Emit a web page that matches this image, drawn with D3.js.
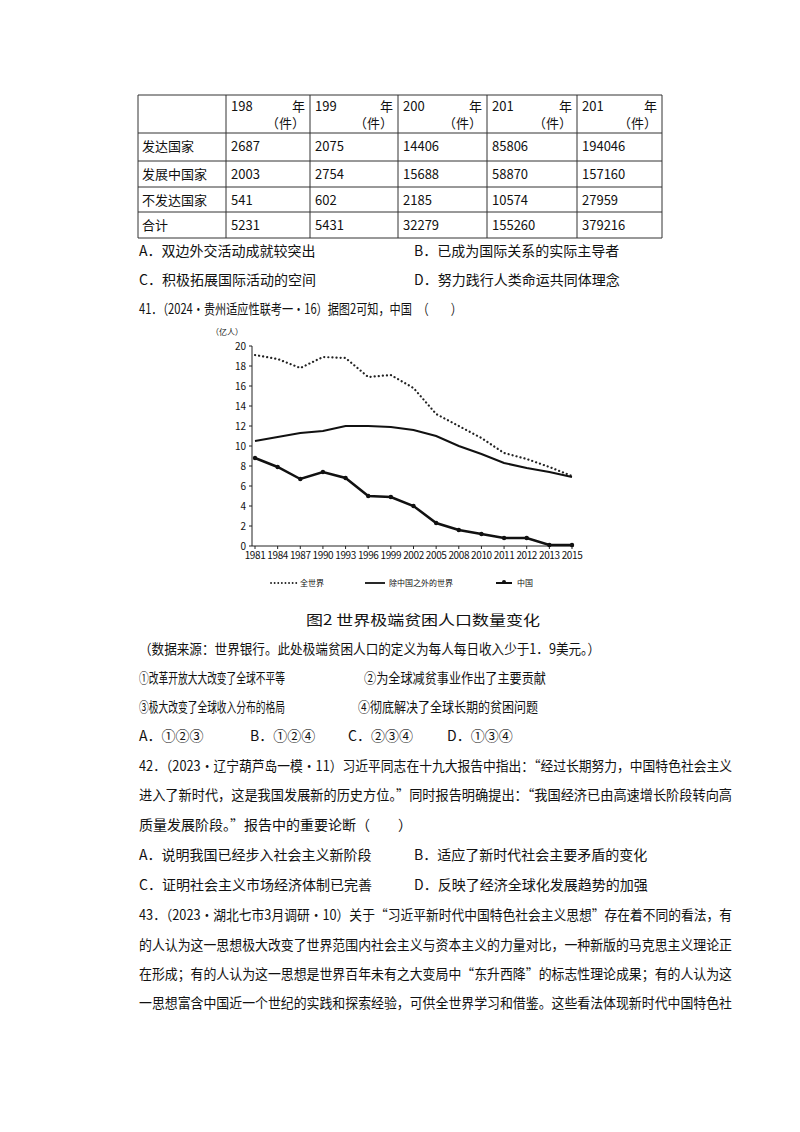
<!DOCTYPE html>
<html>
<head>
<meta charset="utf-8">
<script src="https://d3js.org/d3.v7.min.js"></script>
<style>
  body { margin: 0; background: #fff; }
  svg text { font-family: "Noto Sans CJK SC", "Liberation Serif", serif; fill: #111; }
</style>
</head>
<body>
<script>
// table data
var tableHead = ["198　　年（件）", "199　　年（件）", "200　　年（件）", "201　　年（件）", "201　　年（件）"];
var tableRows = ["发达国家", "发展中国家", "不发达国家", "合计"];
var tableVals = [
  ["2687", "2075", "14406", "85806", "194046"],
  ["2003", "2754", "15688", "58870", "157160"],
  ["541", "602", "2185", "10574", "27959"],
  ["5231", "5431", "32279", "155260", "379216"]
];

// chart data
var years = ["1981","1984","1987","1990","1993","1996","1999","2002","2005","2008","2010","2011","2012","2013","2015"];
var world =   [19.1, 18.7, 17.8, 18.9, 18.8, 16.9, 17.1, 15.8, 13.2, 12.0, 10.8, 9.3, 8.7, 7.9, 7.0];
var exChina = [10.5, 10.9, 11.3, 11.5, 12.0, 12.0, 11.9, 11.6, 11.0, 10.0, 9.2, 8.3, 7.8, 7.4, 6.9];
var china =   [8.8, 7.9, 6.7, 7.4, 6.8, 5.0, 4.9, 4.0, 2.3, 1.6, 1.2, 0.8, 0.8, 0.1, 0.1];
var yTicks = [0, 2, 4, 6, 8, 10, 12, 14, 16, 18, 20];

var svg = d3.select("body").append("svg").attr("width", 800).attr("height", 1132);

// ---- table ----
var colX = [138, 226, 310, 398, 487, 577, 662];
var rowY = [95, 133, 161, 187, 212, 238];
var tg = svg.append("g").attr("stroke", "#333").attr("stroke-width", 1);
colX.forEach(function(x) { tg.append("line").attr("x1", x).attr("x2", x).attr("y1", rowY[0]).attr("y2", rowY[5]); });
rowY.forEach(function(y) { tg.append("line").attr("x1", colX[0]).attr("x2", colX[6]).attr("y1", y).attr("y2", y); });
tableHead.forEach(function(h, i) {
  var x0 = colX[i + 1], x1 = colX[i + 2];
  svg.append("text").attr("x", x0 + 5).attr("y", 111).attr("font-size", 13).attr("font-family", "Liberation Serif").text(h.slice(0, 3));
  svg.append("text").attr("x", x1 - 5).attr("y", 111).attr("font-size", 13).attr("text-anchor", "end").text("年");
  svg.append("text").attr("x", x1 - 5).attr("y", 128).attr("font-size", 13).attr("text-anchor", "end").text("（件）");
});
tableRows.forEach(function(r, i) {
  var y = rowY[i + 1] + 18;
  svg.append("text").attr("x", colX[0] + 4).attr("y", y).attr("font-size", 13).text(r);
  tableVals[i].forEach(function(v, j) {
    svg.append("text").attr("x", colX[j + 1] + 5).attr("y", y).attr("font-size", 13)
      .attr("font-family", "Liberation Serif").text(v);
  });
});

// ---- text lines ----
function t(x, y, s, w) {
  var e = svg.append("text").attr("x", x).attr("y", y).attr("font-size", 14).text(s);
  if (w) e.attr("textLength", w).attr("lengthAdjust", "spacingAndGlyphs");
}
t(139, 256, "A．双边外交活动成就较突出"); t(414, 256, "B．已成为国际关系的实际主导者");
t(139, 285, "C．积极拓展国际活动的空间"); t(414, 285, "D．努力践行人类命运共同体理念");
t(139, 314, "41．（2024·贵州适应性联考一·16）据图2可知，中国　（　　）", 323);
t(306, 625, "图2  世界极端贫困人口数量变化", 234);
t(139, 654, "（数据来源：世界银行。此处极端贫困人口的定义为每人每日收入少于1．9美元。）", 461);
t(139, 683, "①改革开放大大改变了全球不平等", 146); t(364, 683, "②为全球减贫事业作出了主要贡献", 182);
t(139, 712, "③极大改变了全球收入分布的格局", 146); t(358, 712, "④彻底解决了全球长期的贫困问题", 180);
t(139, 741, "A．①②③"); t(250, 741, "B．①②④"); t(348, 741, "C．②③④"); t(447, 741, "D．①③④");
t(139, 771, "42．（2023·辽宁葫芦岛一模·11）习近平同志在十九大报告中指出：“经过长期努力，中国特色社会主义", 593);
t(139, 800, "进入了新时代，这是我国发展新的历史方位。”同时报告明确提出：“我国经济已由高速增长阶段转向高", 593);
t(139, 830, "质量发展阶段。”报告中的重要论断（　　）");
t(139, 860, "A．说明我国已经步入社会主义新阶段"); t(414, 860, "B．适应了新时代社会主要矛盾的变化");
t(139, 890, "C．证明社会主义市场经济体制已完善"); t(414, 890, "D．反映了经济全球化发展趋势的加强");
t(139, 920, "43．（2023·湖北七市3月调研·10）关于“习近平新时代中国特色社会主义思想”存在着不同的看法，有", 593);
t(139, 950, "的人认为这一思想极大改变了世界范围内社会主义与资本主义的力量对比，一种新版的马克思主义理论正", 593);
t(139, 979, "在形成；有的人认为这一思想是世界百年未有之大变局中“东升西降”的标志性理论成果；有的人认为这", 593);
t(139, 1008, "一思想富含中国近一个世纪的实践和探索经验，可供全世界学习和借鉴。这些看法体现新时代中国特色社", 593);

// ---- chart ----
var x = d3.scalePoint().domain(years).range([255, 572]);
var y = d3.scaleLinear().domain([0, 20]).range([546, 346]);
var cg = svg.append("g");
cg.append("line").attr("x1", 252).attr("x2", 252).attr("y1", 346).attr("y2", 546).attr("stroke", "#222");
cg.append("line").attr("x1", 252).attr("x2", 574).attr("y1", 546).attr("y2", 546).attr("stroke", "#222");
yTicks.forEach(function(v) {
  cg.append("line").attr("x1", 249).attr("x2", 252).attr("y1", y(v)).attr("y2", y(v)).attr("stroke", "#222");
  cg.append("text").attr("x", 246).attr("y", y(v) + 3.5).attr("text-anchor", "end")
    .attr("font-size", 10).attr("font-family", "Liberation Serif").text(v);
});
years.forEach(function(yr) {
  cg.append("line").attr("x1", x(yr)).attr("x2", x(yr)).attr("y1", 546).attr("y2", 549).attr("stroke", "#222");
  cg.append("text").attr("x", x(yr)).attr("y", 559).attr("text-anchor", "middle")
    .attr("font-size", 10).attr("font-family", "Liberation Serif").attr("letter-spacing", -0.4).text(yr);
});
cg.append("text").attr("x", 211).attr("y", 335).attr("font-size", 8).text("（亿人）");

var line = d3.line().x(function(d, i) { return x(years[i]); }).y(function(d) { return y(d); });
cg.append("path").datum(world).attr("d", line).attr("fill", "none").attr("stroke", "#222")
  .attr("stroke-width", 2.2).attr("stroke-dasharray", "0.1,4").attr("stroke-linecap", "round");
cg.append("path").datum(exChina).attr("d", line).attr("fill", "none").attr("stroke", "#111").attr("stroke-width", 2);
cg.append("path").datum(china).attr("d", line).attr("fill", "none").attr("stroke", "#111").attr("stroke-width", 2.5);
cg.selectAll(".mk").data(china).enter().append("circle")
  .attr("cx", function(d, i) { return x(years[i]); }).attr("cy", function(d) { return y(d); })
  .attr("r", 2.2).attr("fill", "#111");

// legend
var lg = svg.append("g").attr("font-size", 8);
lg.append("line").attr("x1", 271).attr("x2", 297).attr("y1", 583).attr("y2", 583).attr("stroke", "#222")
  .attr("stroke-width", 1.8).attr("stroke-dasharray", "0.1,3.5").attr("stroke-linecap", "round");
lg.append("text").attr("x", 300).attr("y", 586).text("全世界");
lg.append("line").attr("x1", 365).attr("x2", 385).attr("y1", 583).attr("y2", 583).attr("stroke", "#111").attr("stroke-width", 1.8);
lg.append("text").attr("x", 389).attr("y", 586).text("除中国之外的世界");
lg.append("line").attr("x1", 496).attr("x2", 512).attr("y1", 583).attr("y2", 583).attr("stroke", "#111").attr("stroke-width", 2);
lg.append("circle").attr("cx", 504).attr("cy", 582).attr("r", 2).attr("fill", "#111");
lg.append("text").attr("x", 517).attr("y", 586).text("中国");
</script>
</body>
</html>
